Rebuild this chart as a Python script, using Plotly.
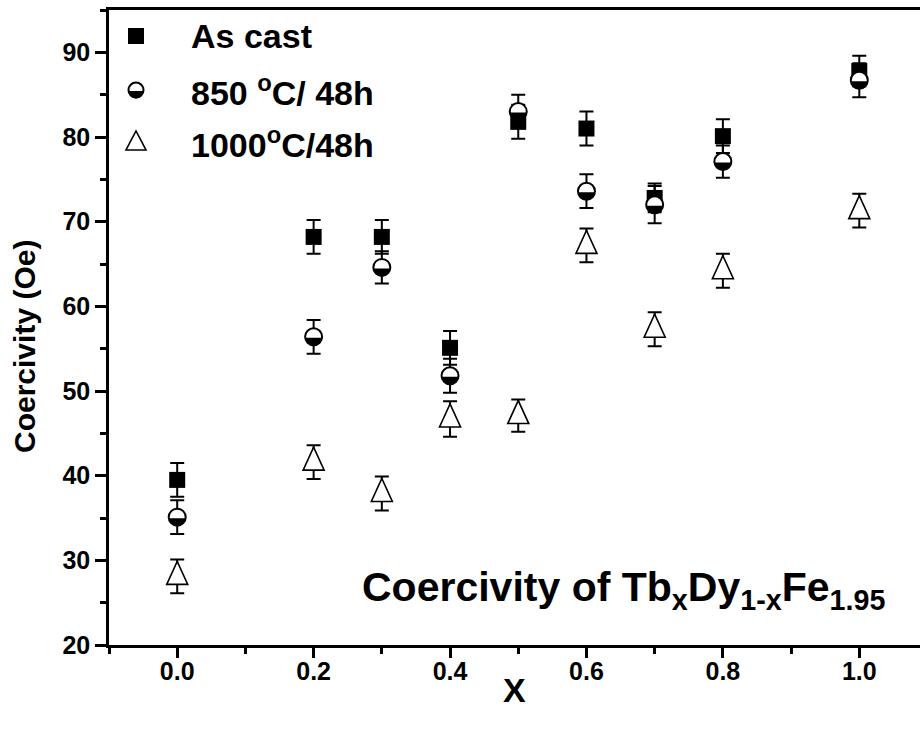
import plotly.graph_objects as go

# Composition x in TbxDy1-xFe1.95
x_vals = [0.0, 0.2, 0.3, 0.4, 0.5, 0.6, 0.7, 0.8, 1.0]

# Coercivity (Oe) for each heat treatment
as_cast = [39.5, 68.2, 68.2, 55.1, 81.8, 81.0, 72.8, 80.1, 87.8]
as_cast_err = [2.0, 2.0, 2.0, 2.0, 2.0, 2.0, 1.7, 2.0, 1.8]

t850 = [35.1, 56.4, 64.6, 51.8, 83.0, 73.6, 72.0, 77.1, 86.7]
t850_err = [2.0, 2.0, 1.9, 2.0, 2.0, 2.0, 2.2, 1.9, 2.0]

t1000 = [28.1, 41.6, 37.9, 46.7, 47.1, 67.2, 57.3, 64.2, 71.3]
t1000_err = [2.0, 2.0, 2.0, 2.1, 1.9, 2.0, 2.0, 2.0, 2.0]

legend_labels = ["As cast", "850 <sup>o</sup>C/ 48h", "1000<sup>o</sup>C/48h"]

FONT = "Arial, Liberation Sans, sans-serif"

# plot-area geometry (pixels) used to place the in-plot legend and captions
L, R, T, B = 109, 920, 10, 645


def px(xp):
    return (xp - L) / (R - L)


def py(yp):
    return (B - yp) / (B - T)


def half_disc(xa, ya, xref, yref, r=8.0):
    """Filled lower half of a circle marker, sized in pixels (y up)."""
    k = 0.5523 * r
    y0 = -1
    path = (f"M {r},{y0} C {r},{y0 - k} {k},{y0 - r} 0,{y0 - r} "
            f"C {-k},{y0 - r} {-r},{y0 - k} {-r},{y0} Z")
    return dict(type="path", xref=xref, yref=yref,
                xsizemode="pixel", ysizemode="pixel",
                xanchor=xa, yanchor=ya, path=path,
                fillcolor="black", line=dict(width=0), layer="above")


# open triangle centred on its centroid, sized in pixels (y up)
TRI_PATH = "M -10.5,-8 L 10.5,-8 L 0,15 Z"


def triangle(xa, ya, xref, yref, path=TRI_PATH):
    return dict(type="path", xref=xref, yref=yref,
                xsizemode="pixel", ysizemode="pixel",
                xanchor=xa, yanchor=ya, path=path,
                fillcolor="white", line=dict(color="black", width=1.6),
                layer="above")


err_style = dict(type="data", color="black", thickness=2, width=7)

fig = go.Figure()

fig.add_trace(go.Scatter(
    x=x_vals, y=as_cast, mode="markers", name=legend_labels[0],
    error_y=dict(array=as_cast_err, **err_style),
    marker=dict(symbol="square", size=16, color="black",
                line=dict(color="black", width=0)),
    showlegend=False,
))

fig.add_trace(go.Scatter(
    x=x_vals, y=t850, mode="markers", name=legend_labels[1],
    error_y=dict(array=t850_err, **err_style),
    marker=dict(symbol="circle", size=17, color="white",
                line=dict(color="black", width=2)),
    showlegend=False,
))

fig.add_trace(go.Scatter(
    x=x_vals, y=t1000, mode="markers", name=legend_labels[2],
    error_y=dict(array=t1000_err, **err_style),
    marker=dict(symbol="circle", size=1, color="rgba(0,0,0,0)"),
    showlegend=False,
))

shapes = [half_disc(xv, yv, "x", "y") for xv, yv in zip(x_vals, t850)]
shapes += [triangle(xv, yv, "x", "y") for xv, yv in zip(x_vals, t1000)]

# legend symbols
leg_x = px(136)
leg_rows = [py(36), py(90), py(142)]
shapes.append(dict(type="path", xref="paper", yref="paper",
                   xsizemode="pixel", ysizemode="pixel",
                   xanchor=leg_x, yanchor=leg_rows[0],
                   path="M -8,-8 H 8 V 8 H -8 Z",
                   fillcolor="black", line=dict(width=0)))
shapes.append(dict(type="circle", xref="paper", yref="paper",
                   xsizemode="pixel", ysizemode="pixel",
                   xanchor=leg_x, yanchor=leg_rows[1],
                   x0=-7.5, x1=7.5, y0=-7.5, y1=7.5,
                   fillcolor="white", line=dict(color="black", width=2)))
shapes.append(half_disc(leg_x, leg_rows[1], "paper", "paper", r=7.5))
shapes.append(triangle(leg_x, leg_rows[2], "paper", "paper",
                       path="M -10,-8 L 10,-8 L 0,11 Z"))

annotations = []
for lab, yy in zip(legend_labels, leg_rows):
    annotations.append(dict(
        text=lab, xref="paper", yref="paper", x=px(189), y=yy,
        xanchor="left", yanchor="middle", showarrow=False,
        font=dict(family=FONT, size=34, color="black", weight="bold"),
    ))

annotations.append(dict(
    text="Coercivity of Tb<sub>x</sub>Dy<sub>1-x</sub>Fe<sub>1.95</sub>",
    xref="paper", yref="paper", x=px(360), y=py(590),
    xanchor="left", yanchor="middle", showarrow=False,
    font=dict(family=FONT, size=41, color="black", weight="bold"),
))

# y-axis title, centred a little below the middle of the axis
annotations.append(dict(
    text="Coercivity (Oe)", xref="paper", yref="paper",
    x=px(24), y=py(347), xanchor="center", yanchor="middle",
    textangle=-90, showarrow=False,
    font=dict(family=FONT, size=30, color="black", weight="bold"),
))

# x-axis title
annotations.append(dict(
    text="X", xref="paper", yref="paper",
    x=px(514), y=py(690), xanchor="center", yanchor="middle",
    showarrow=False,
    font=dict(family=FONT, size=34, color="black", weight="bold"),
))

fig.update_layout(
    width=920, height=731,
    margin=dict(l=L, r=920 - R, t=T, b=731 - B),
    paper_bgcolor="white", plot_bgcolor="white",
    shapes=shapes, annotations=annotations,
    xaxis=dict(
        range=[-0.1, 1.089], tickmode="linear", tick0=0, dtick=0.2,
        tickformat=".1f", ticks="outside", ticklen=10, tickwidth=2.5,
        tickcolor="black", showline=True, linecolor="black", linewidth=2.5,
        mirror=True, showgrid=False, zeroline=False,
        ticklabelstandoff=-8,
        minor=dict(dtick=0.1, tick0=0.1, ticks="outside", ticklen=6,
                   tickwidth=2.5, tickcolor="black", showgrid=False),
        tickfont=dict(family=FONT, size=25, color="black", weight="bold"),
    ),
    yaxis=dict(
        range=[20, 95], tickmode="linear", tick0=20, dtick=10,
        ticks="outside", ticklen=11, tickwidth=2.5, tickcolor="black",
        showline=True, linecolor="black", linewidth=2.5, mirror=False,
        showgrid=False, zeroline=False,
        minor=dict(dtick=5, tick0=25, ticks="outside", ticklen=6,
                   tickwidth=2.5, tickcolor="black", showgrid=False),
        tickfont=dict(family=FONT, size=25, color="black", weight="bold"),
    ),
)

fig.write_html("out.html")
